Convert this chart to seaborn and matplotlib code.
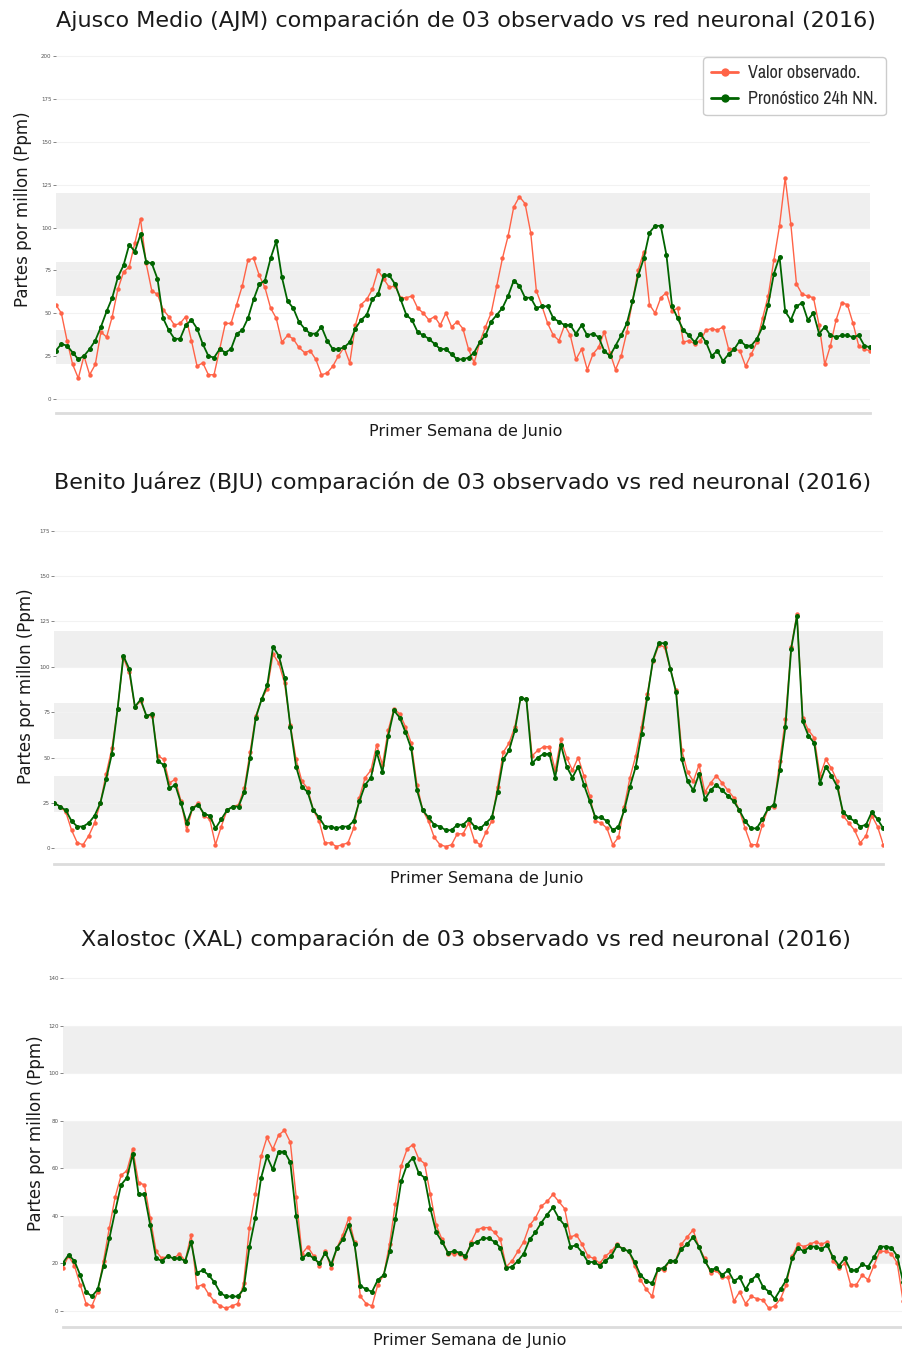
import matplotlib
matplotlib.use("Agg")
import matplotlib.pyplot as plt
import pandas as pd
import seaborn as sns
from matplotlib import font_manager as fm
from matplotlib.lines import Line2D

# Hourly ozone, first week of June 2016 (145 hourly readings per station)
ajm_observado = [
    55, 50, 34, 20, 12, 25, 14, 20, 39, 36, 48, 64, 74, 77, 91, 105, 79, 63, 61, 52,
    48, 43, 44, 48, 34, 19, 21, 14, 14, 29, 44, 44, 55, 66, 81, 82, 72, 65, 53, 47,
    33, 37, 35, 30, 27, 28, 23, 14, 15, 19, 25, 30, 21, 43, 55, 58, 64, 75, 70, 65,
    66, 59, 59, 60, 53, 50, 46, 48, 43, 50, 42, 45, 41, 29, 21,
    33, 42, 50, 66, 82, 95, 112, 118, 114, 97, 63, 54, 44, 37, 34, 43, 37, 23, 29, 17,
    26, 30, 39, 27, 17, 25, 39, 57, 75, 86, 55, 50, 59, 62, 51, 53, 33, 34, 32, 34,
    40, 41, 40, 42, 29, 29, 28, 19, 26, 33, 47, 60, 81, 101, 129, 102, 67, 61, 60, 59,
    43, 20, 31, 46, 56, 55, 44, 31, 29, 28,
]
ajm_pronostico = [
    28, 32, 31, 27, 23, 25, 29, 34, 42, 51, 59, 71, 78, 90, 86, 96, 80, 79, 70, 47,
    40, 35, 35, 43, 46, 41, 32, 25, 24, 29, 27, 29, 38, 40, 47, 58, 67, 69, 82, 92,
    71, 57, 53, 45, 41, 38, 38, 42, 34, 29, 29, 30, 33, 41, 46, 49, 58, 61, 72, 72,
    67, 58, 49, 46, 39, 37, 35, 32, 29, 29, 26, 23, 23, 24,
    27, 33, 37, 45, 49, 53, 60, 69, 66, 59, 59, 53, 54, 54, 47, 45, 43, 43, 38, 43,
    37, 38, 36, 28, 25, 31, 37, 44, 57, 72, 82, 97, 101, 101, 84, 54, 47, 40, 37, 33,
    38, 33, 25, 28, 22, 26, 29, 34, 31, 31, 35, 42, 55, 73, 83, 51, 46, 54, 56, 46,
    50, 38, 42, 37, 36, 37, 37, 36, 37, 31, 30,
]

bju_observado = [
    25, 23, 20, 10, 3, 2, 7, 14, 25, 41, 55, 77, 105, 97, 78, 81, 73, 73, 51, 49,
    36, 38, 26, 10, 22, 25, 18, 16, 2, 12, 21, 23, 24, 33, 53, 73, 82, 88, 107, 102,
    91, 68, 49, 37, 33, 21, 15, 3, 3, 1, 2, 3, 11, 28, 39, 43, 57, 46, 65, 77,
    74, 67, 58, 35, 21, 15, 6, 2, 1, 2, 8, 8, 14,
    4, 2, 9, 15, 34, 53, 58, 67, 83, 82, 51, 54, 56, 56, 43, 60, 50, 43, 50, 40,
    29, 15, 14, 11, 2, 6, 23, 39, 51, 67, 85, 103, 112, 111, 99, 87, 54, 42, 37, 46,
    31, 36, 40, 36, 32, 28, 21, 11, 2, 2, 13, 22, 23, 48, 71, 111, 129, 72, 65, 61,
    40, 49, 44, 37, 18, 14, 10, 3, 7, 18, 12, 2,
]
bju_pronostico = [
    25, 23, 21, 15, 12, 12, 14, 18, 25, 38, 52, 77, 106, 99, 78, 82, 73, 74, 48, 46,
    33, 35, 25, 14, 22, 24, 19, 18, 11, 16, 21, 23, 23, 31, 50, 72, 82, 90, 111, 106,
    94, 67, 45, 34, 31, 21, 17, 12, 12, 11, 12, 12, 15, 26, 35, 39, 53, 42, 62, 76,
    72, 64, 55, 32, 21, 17, 13, 12, 10, 10, 13, 13, 16,
    12, 11, 14, 17, 31, 49, 54, 65, 83, 82, 47, 50, 52, 52, 39, 57, 45, 39, 45, 35,
    26, 17, 17, 15, 10, 12, 21, 34, 45, 63, 83, 104, 113, 113, 99, 86, 49, 37, 32, 41,
    27, 32, 35, 32, 29, 26, 21, 15, 11, 11, 16, 22, 24, 43, 67, 110, 128, 70, 62, 58,
    36, 45, 40, 34, 20, 17, 15, 12, 13, 20, 16, 11,
]

xal_observado = [
    18, 23, 19, 11, 3, 2, 8, 21, 35, 48, 57, 59, 68, 54, 53, 39, 25, 22, 23, 22,
    24, 21, 32, 10, 11, 7, 4, 2, 1, 2, 3, 11.5, 35, 49, 65, 73, 68, 74, 76, 71,
    48, 24, 27, 23, 19, 25, 18, 26.5, 32, 39, 29, 6, 3, 2, 11, 15, 28, 45, 61, 68,
    70, 64, 62, 49, 36,
    30, 24, 24, 24, 22, 29, 34, 35, 35, 33, 30, 18.5, 21, 25, 29, 36, 39, 44, 46, 49,
    46, 43, 31, 32, 28, 23, 22, 20, 23, 25, 28, 26, 25, 19, 13, 9, 6, 17.5, 17, 21,
    21, 28, 31, 34, 27, 22, 16, 17, 14, 14, 4, 8, 3, 6, 5, 4.5, 1, 2, 5, 11,
    23, 28, 27, 28, 29, 28, 29, 21, 18, 20, 11, 11, 15, 13, 19, 25, 25, 24, 20, 4,
]
xal_pronostico = [
    20, 23.5, 21, 15, 8, 6, 9, 19, 30.5, 42, 53, 56, 66, 49, 49, 36, 22, 21, 23, 22,
    22, 21, 29, 16, 17, 15, 12, 7.5, 6, 6, 6, 9, 27, 39, 56, 65, 59.5, 67, 67, 62.5,
    40, 22, 24, 22, 20, 24.5, 19.5, 26.5, 30, 36, 28, 10.5, 9, 8, 13, 15, 25, 38.5, 54.5, 61.5,
    64.5, 58, 56, 43, 33,
    29, 24.5, 25, 24.5, 23, 28, 29, 30.5, 30.5, 29, 26.5, 18, 18.5, 21, 24, 30, 33, 37, 40.5, 43.5,
    39, 36, 27, 27.5, 24.5, 20.5, 20.5, 19, 21, 23, 27.5, 26, 25, 20.5, 15, 12.5, 11.5, 17.5, 18, 21,
    21, 26, 28, 31, 27, 21, 17, 18, 15, 17, 12.5, 14, 9, 13, 15, 10, 8, 5, 9, 13,
    22, 26.5, 25, 27, 27, 26, 27.5, 22.5, 19, 22, 17, 17, 19.5, 18.5, 22.5, 27, 27, 26.5, 23, 12,
]

titulos = [
    "Ajusco Medio (AJM) comparación de 03 observado vs red neuronal (2016)",
    "Benito Juárez (BJU) comparación de 03 observado vs red neuronal (2016)",
    "Xalostoc (XAL) comparación de 03 observado vs red neuronal (2016)",
]
observados = [ajm_observado, bju_observado, xal_observado]
pronosticos = [ajm_pronostico, bju_pronostico, xal_pronostico]
yticks_panel = [list(range(0, 201, 25)), list(range(0, 176, 25)), list(range(0, 141, 20))]
bandas = [(20, 40), (60, 80), (100, 120)]

etiqueta_obs = "Valor observado."
etiqueta_nn = "Pronóstico 24h NN."
etiqueta_y = "Partes por millon (Ppm)"
etiqueta_x = "Primer Semana de Junio"

COLOR_OBS = "#ff6347"
COLOR_NN = "#006400"

sns.set_theme(style="white")
plt.rcParams["font.family"] = ["DejaVu Sans"]

# narrow face for the legend, if the system has one
_fonts = fm.fontManager.ttflist
_narrow = [f.name for f in _fonts if "Narrow" in f.name or "Condensed" in f.name]
_dejavu_cond = [f for f in _fonts if f.name == "DejaVu Sans" and "condensed" in str(f.stretch)]
if _narrow:
    legend_prop = fm.FontProperties(family=[_narrow[0], "DejaVu Sans"], size=13)
elif _dejavu_cond:
    legend_prop = fm.FontProperties(family="DejaVu Sans", stretch="condensed", size=12)
else:
    legend_prop = fm.FontProperties(family=["Roboto", "DejaVu Sans"], size=10.5)

W, H = 902, 1353
fig = plt.figure(figsize=(W / 100, H / 100), dpi=100)
fig.patch.set_facecolor("white")


def axes_px(x0, x1, y_top, y_bot):
    return fig.add_axes([x0 / W, 1 - y_bot / H, (x1 - x0) / W, (y_bot - y_top) / H])


# pixel box, y-limits and text anchors for each station panel
layout = [
    dict(box=(55.7, 870.0, 47.8, 413.1), ylim=(-8.4, 205),
         title=(466, 20), ylab=(23, 209), xlab=(466, 431)),
    dict(box=(54.3, 883.3, 521.6, 864.3), ylim=(-8.8, 180),
         title=(463, 482), ylab=(26, 686), xlab=(487, 878)),
    dict(box=(62.7, 903.1, 966.5, 1327.3), ylim=(-7.0, 145),
         title=(466, 939), ylab=(36, 1133), xlab=(470, 1341)),
]

for k in range(3):
    lay = layout[k]
    ax = axes_px(*lay["box"])
    ax.set_facecolor("white")
    for lo, hi in bandas:
        ax.axhspan(lo, hi, color="#efefef", lw=0, zorder=0)

    obs = observados[k]
    nn = pronosticos[k]
    df_obs = pd.DataFrame({"hora": range(len(obs)), "ppm": obs})
    df_nn = pd.DataFrame({"hora": range(len(nn)), "ppm": nn})
    sns.lineplot(data=df_obs, x="hora", y="ppm", ax=ax, color=COLOR_OBS,
                 marker="o", markersize=3.2, markeredgewidth=0, linewidth=1.0,
                 zorder=3)
    sns.lineplot(data=df_nn, x="hora", y="ppm", ax=ax, color=COLOR_NN,
                 marker="o", markersize=3.6, markeredgewidth=0, linewidth=1.3,
                 zorder=4)

    ax.set_xlim(0, 144)
    ax.set_ylim(*lay["ylim"])
    ax.set_yticks(yticks_panel[k])
    ax.set_xticks([])
    ax.yaxis.grid(True, color="#f2f2f2", linewidth=0.8)
    ax.set_axisbelow(True)
    ax.tick_params(axis="y", labelsize=4, colors="#555555", length=2,
                   width=0.5, pad=1, left=True)
    for s in ("top", "right", "left"):
        ax.spines[s].set_visible(False)
    ax.spines["bottom"].set_color("#dcdcdc")
    ax.spines["bottom"].set_linewidth(2)
    ax.set_xlabel("")
    ax.set_ylabel("")

    tx, ty = lay["title"]
    fig.text(tx / W, 1 - ty / H, titulos[k], ha="center", va="center",
             fontsize=16, color="#1a1a1a")
    yx, yy = lay["ylab"]
    fig.text(yx / W, 1 - yy / H, etiqueta_y, ha="center", va="center",
             rotation=90, fontsize=12, color="#1a1a1a")
    xx, xy = lay["xlab"]
    fig.text(xx / W, 1 - xy / H, etiqueta_x, ha="center", va="center",
             fontsize=11.5, color="#1a1a1a")

handles = [
    Line2D([], [], color=COLOR_OBS, marker="o", markersize=6, linewidth=2,
           markeredgewidth=0, label=etiqueta_obs),
    Line2D([], [], color=COLOR_NN, marker="o", markersize=6, linewidth=2,
           markeredgewidth=0, label=etiqueta_nn),
]
leg = fig.legend(handles=handles, loc="upper right",
                 bbox_to_anchor=(886 / W, 1 - 57 / H), bbox_transform=fig.transFigure,
                 borderaxespad=0, frameon=True, fancybox=True, framealpha=1,
                 edgecolor="#cccccc", handlelength=1.5, handletextpad=0.55,
                 borderpad=0.45, labelspacing=0.55, prop=legend_prop)
for t in leg.get_texts():
    t.set_color("#2a2a2a")

fig.savefig("out.png", dpi=100)
